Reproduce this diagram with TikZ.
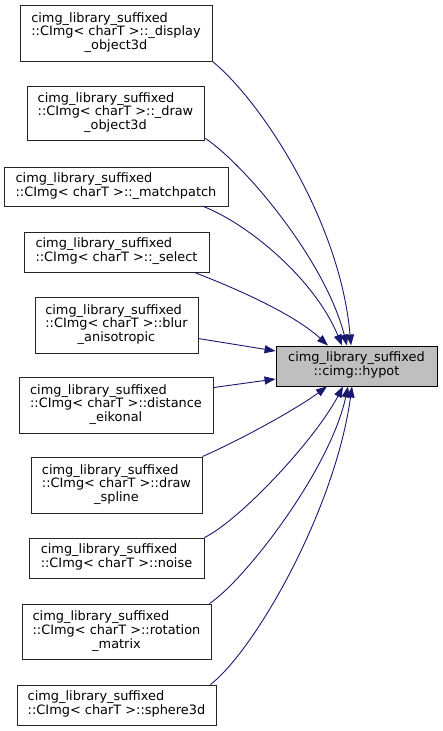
\documentclass[tikz,border=0pt]{standalone}
\usepackage{fontspec}
\setmainfont{DejaVu Sans}
\usetikzlibrary{arrows.meta,calc}

% label layouts: leading lines left-justified, last line centred
\newcommand{\lblthree}[3]{\begin{tabular}{@{}l@{}}#1\\#2\\\multicolumn{1}{@{}c@{}}{#3}\end{tabular}}
\newcommand{\lbltwo}[2]{\begin{tabular}{@{}l@{}}#1\\\multicolumn{1}{@{}c@{}}{#2}\end{tabular}}
\newcommand{\cls}{cimg\_library\_suffixed}
\newcommand{\ctmpl}{::CImg< charT >::}

\definecolor{edgeblue}{HTML}{191970}
\definecolor{focusgray}{HTML}{BFBFBF}

\begin{document}
\begin{tikzpicture}[x=1pt,y=-1pt,
  every node/.style={font=\fontsize{12.9}{13.5}\selectfont},
  box/.style={draw=black!85, line width=0.9pt, fill=white, inner sep=0pt},
  focus/.style={box, fill=focusgray, draw=black},
  edge/.style={draw=edgeblue, line width=0.9pt, -{Triangle[length=11pt,width=8pt]}}]

\useasboundingbox (0,0) rectangle (443,731);

% callers
\node[box, minimum width=192pt, minimum height=56pt] (n1) at (116,33)
  {\lblthree{\cls}{\ctmpl\_display}{\_object3d}};
\node[box, minimum width=177pt, minimum height=54pt] (n2) at (115.5,113)
  {\lblthree{\cls}{\ctmpl\_draw}{\_object3d}};
\node[box, minimum width=224pt, minimum height=39pt] (n3) at (116,186.5)
  {\lbltwo{\cls}{\ctmpl\_matchpatch}};
\node[box, minimum width=185pt, minimum height=40pt] (n4) at (116.5,252)
  {\lbltwo{\cls}{\ctmpl\_select}};
\node[box, minimum width=163pt, minimum height=56pt] (n5) at (116.5,325)
  {\lblthree{\cls}{\ctmpl blur}{\_anisotropic}};
\node[box, minimum width=194pt, minimum height=56pt] (n6) at (116,405)
  {\lblthree{\cls}{\ctmpl distance}{\_eikonal}};
\node[box, minimum width=171pt, minimum height=56pt] (n7) at (116.5,485)
  {\lblthree{\cls}{\ctmpl draw}{\_spline}};
\node[box, minimum width=175pt, minimum height=40pt] (n8) at (116.5,558)
  {\lbltwo{\cls}{\ctmpl noise}};
\node[box, minimum width=189pt, minimum height=55pt] (n9) at (116.5,631.5)
  {\lblthree{\cls}{\ctmpl rotation}{\_matrix}};
\node[box, minimum width=199pt, minimum height=40pt] (n10) at (116.5,705)
  {\lbltwo{\cls}{\ctmpl sphere3d}};

% called function
\node[focus, minimum width=161pt, minimum height=40pt] (t) at (356.5,366)
  {\lbltwo{\cls}{::cimg::hypot}};

% call edges
\draw[edge] (n1.south east) .. controls (260,100) and (340,220) .. ($(t.north)+(-5.5,0)$);
\draw[edge] ($(n2.south east)+(1,-2)$) .. controls (245,165) and (325,260) .. ($(t.north)+(-9.5,0)$);
\draw[edge] ($(n3.south east)+(-25,0)$) .. controls (250,225) and (315,280) .. ($(t.north)+(-14.5,0)$);
\draw[edge] ($(n4.south east)+(-15,0)$) .. controls (240,290) and (295,315) .. ($(t.north)+(-28.5,0)$);
\draw[edge] ($(n5.north east)+(0,42)$) -- ($(t.west)+(0,-15)$);
\draw[edge] ($(n6.north east)+(0,11)$) -- ($(t.west)+(0,13)$);
\draw[edge] (n7.north east) .. controls (240,440) and (295,410) .. ($(t.south)+(-29.5,0)$);
\draw[edge] (n8.north east) .. controls (240,520) and (315,440) .. ($(t.south)+(-13.5,0)$);
\draw[edge] ($(n9.north east)+(-2,0)$) .. controls (245,580) and (330,470) .. ($(t.south)+(-8.5,0)$);
\draw[edge] ($(n10.north east)+(-6,0)$) .. controls (255,650) and (335,510) .. ($(t.south)+(-4.5,0)$);
\end{tikzpicture}
\end{document}
